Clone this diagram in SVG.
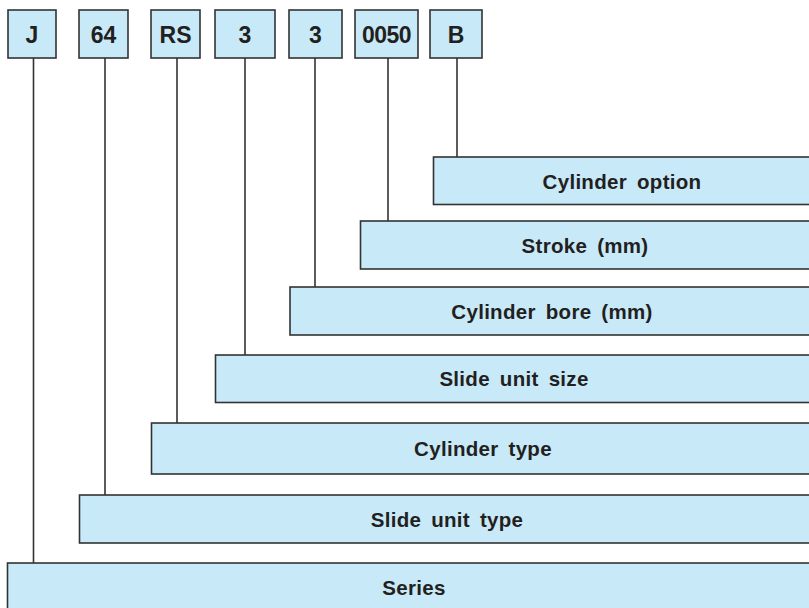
<svg xmlns="http://www.w3.org/2000/svg" width="809" height="608" viewBox="0 0 809 608">
<style>
.box{fill:#c8e9f8;stroke:#333;stroke-width:1.6}
.ln{stroke:#333;stroke-width:1.6;fill:none}
.code{font-family:"Liberation Sans",Arial,sans-serif;font-weight:bold;font-size:23px;fill:#231f20;text-anchor:middle}
.lbl{font-family:"Liberation Sans",Arial,sans-serif;font-weight:bold;font-size:20.5px;fill:#231f20;text-anchor:middle;letter-spacing:0.3px;word-spacing:4px}
</style>
<rect width="809" height="608" fill="#fff"/>
<g id="connectors">
<line class="ln" x1="33.5" y1="58" x2="33.5" y2="563"/>
<line class="ln" x1="105" y1="58" x2="105" y2="495"/>
<line class="ln" x1="177" y1="58" x2="177" y2="423"/>
<line class="ln" x1="245" y1="58" x2="245" y2="355"/>
<line class="ln" x1="315" y1="58" x2="315" y2="287"/>
<line class="ln" x1="388" y1="58" x2="388" y2="221"/>
<line class="ln" x1="457" y1="58" x2="457" y2="157"/>
</g>
<g id="code-J"><rect class="box" x="8" y="10" width="48" height="48"/><text class="code" x="32" y="42.5">J</text></g>
<g id="code-64"><rect class="box" x="79" y="10" width="49" height="48"/><text class="code" x="103.5" y="42.5">64</text></g>
<g id="code-RS"><rect class="box" x="151" y="10" width="49" height="48"/><text class="code" x="175.5" y="42.5">RS</text></g>
<g id="code-3a"><rect class="box" x="215" y="10" width="60" height="48"/><text class="code" x="245" y="42.5">3</text></g>
<g id="code-3b"><rect class="box" x="289" y="10" width="53" height="48"/><text class="code" x="315.5" y="42.5">3</text></g>
<g id="code-0050"><rect class="box" x="355" y="10" width="63" height="48"/><text class="code" x="386.5" y="42.5" letter-spacing="-0.5">0050</text></g>
<g id="code-B"><rect class="box" x="430" y="10" width="52" height="48"/><text class="code" x="456" y="42.5">B</text></g>
<g id="bar-option"><rect class="box" x="433.5" y="157" width="380" height="47.5"/><text class="lbl" x="622" y="188.5">Cylinder option</text></g>
<g id="bar-stroke"><rect class="box" x="360.5" y="221" width="453" height="48"/><text class="lbl" x="585" y="252.5">Stroke (mm)</text></g>
<g id="bar-bore"><rect class="box" x="290" y="287" width="523" height="48"/><text class="lbl" x="552" y="318.5">Cylinder bore (mm)</text></g>
<g id="bar-size"><rect class="box" x="215.5" y="355" width="598" height="47.5"/><text class="lbl" x="514" y="386">Slide unit size</text></g>
<g id="bar-cyltype"><rect class="box" x="151.5" y="423" width="662" height="51"/><text class="lbl" x="483" y="456">Cylinder type</text></g>
<g id="bar-slidetype"><rect class="box" x="79.5" y="495" width="734" height="48"/><text class="lbl" x="447" y="526.5">Slide unit type</text></g>
<g id="bar-series"><rect class="box" x="7.5" y="563" width="806" height="52"/><text class="lbl" x="414" y="594.5">Series</text></g>
</svg>
